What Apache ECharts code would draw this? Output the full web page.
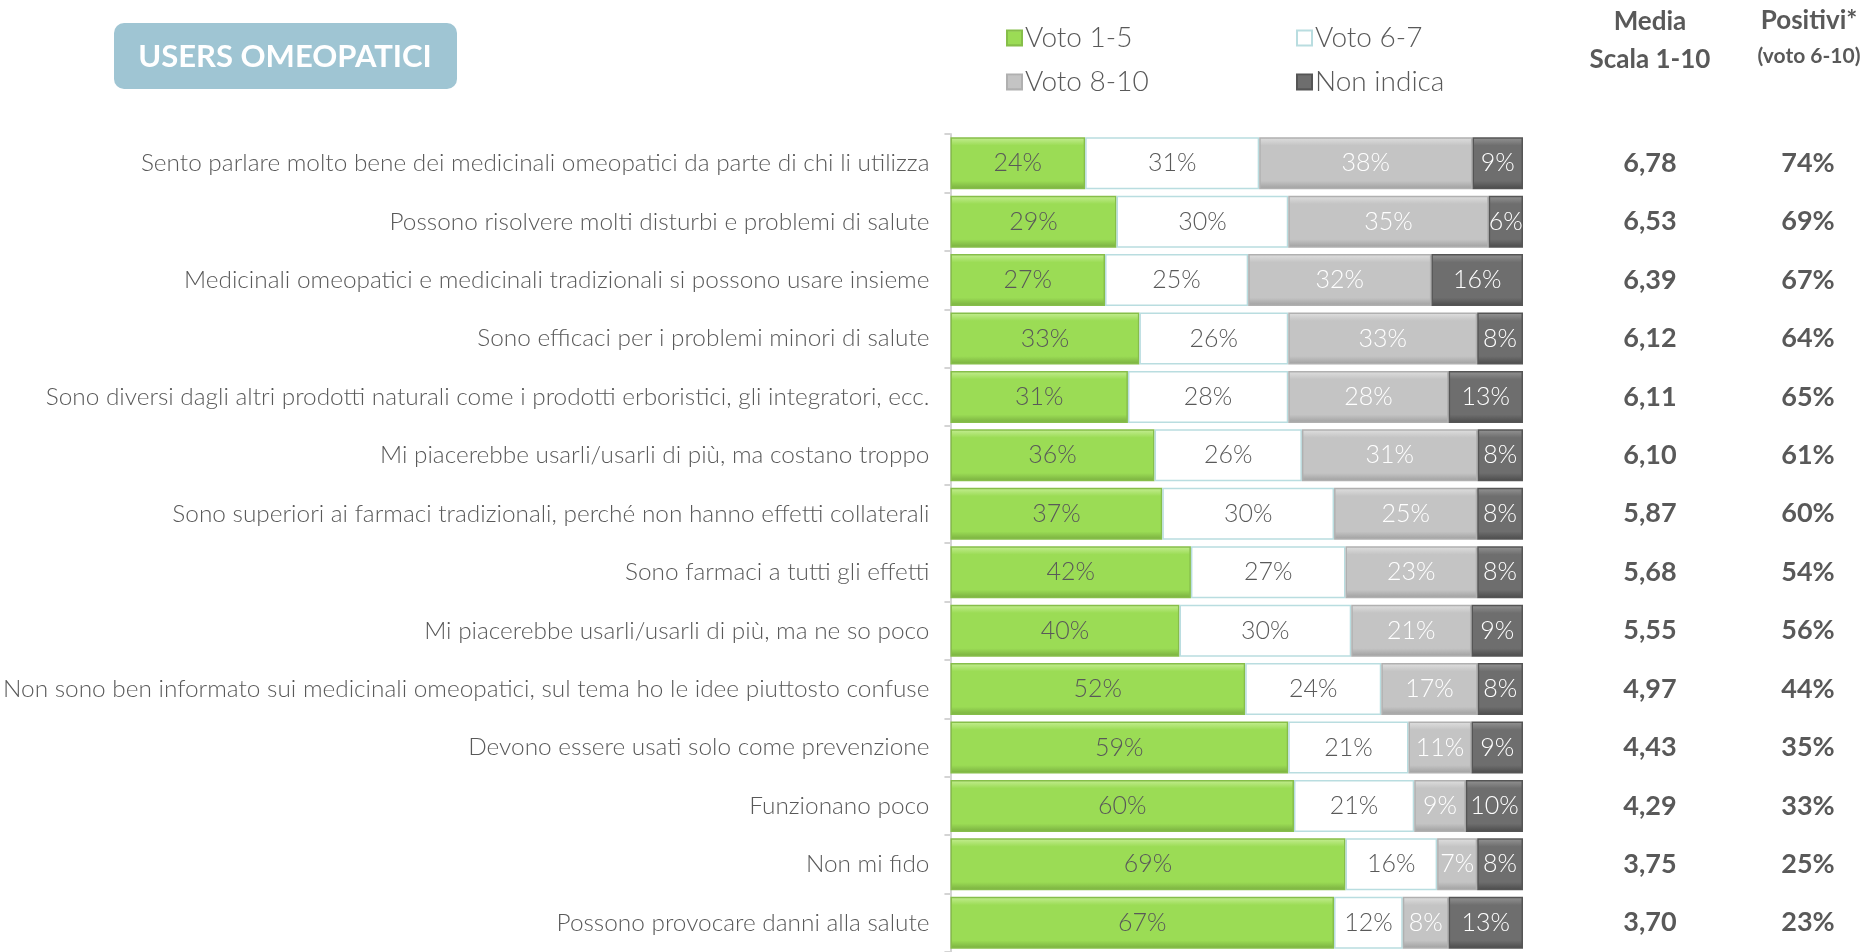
<!DOCTYPE html>
<html>
<head>
<meta charset="utf-8">
<script src="https://cdn.jsdelivr.net/npm/echarts@6/dist/echarts.min.js"></script>
<style>
  html, body { margin: 0; padding: 0; background: #fff; }
  #chart { width: 1865px; height: 952px; }
</style>
</head>
<body>
<div id="chart"></div>
<script>
  const categories = [
    'Sento parlare molto bene dei medicinali omeopatici da parte di chi li utilizza',
    'Possono risolvere molti disturbi e problemi di salute',
    'Medicinali omeopatici e medicinali tradizionali si possono usare insieme',
    'Sono efficaci per i problemi minori di salute',
    'Sono diversi dagli altri prodotti naturali come i prodotti erboristici, gli integratori, ecc.',
    'Mi piacerebbe usarli/usarli di più, ma costano troppo',
    'Sono superiori ai farmaci tradizionali, perché non hanno effetti collaterali',
    'Sono farmaci a tutti gli effetti',
    'Mi piacerebbe usarli/usarli di più, ma ne so poco',
    'Non sono ben informato sui medicinali omeopatici, sul tema ho le idee piuttosto confuse',
    'Devono essere usati solo come prevenzione',
    'Funzionano poco',
    'Non mi fido',
    'Possono provocare danni alla salute'
  ]
  const voto15 = [24, 29, 27, 33, 31, 36, 37, 42, 40, 52, 59, 60, 69, 67]
  const voto67 = [31, 30, 25, 26, 28, 26, 30, 27, 30, 24, 21, 21, 16, 12]
  const voto810 = [38, 35, 32, 33, 28, 31, 25, 23, 21, 17, 11, 9, 7, 8]
  const nonIndica = [9, 6, 16, 8, 13, 8, 8, 8, 9, 8, 9, 10, 8, 13]
  const media = ['6,78', '6,53', '6,39', '6,12', '6,11', '6,10', '5,87', '5,68', '5,55', '4,97', '4,43', '4,29', '3,75', '3,70']
  const positivi = ['74%', '69%', '67%', '64%', '65%', '61%', '60%', '54%', '56%', '44%', '35%', '33%', '25%', '23%']

  const FONT = 'Lato'
  const TEXT = '#595959'

  // every row fills the whole width, as in the original (rows do not always sum to 100)
  const totals = categories.map((c, i) => voto15[i] + voto67[i] + voto810[i] + nonIndica[i])
  const toShare = arr => arr.map((v, i) => ({ value: v / totals[i] * 100, raw: v }))

  function bevel (top, mid, bottom) {
    return {
      type: 'linear', x: 0, y: 0, x2: 0, y2: 1,
      colorStops: [
        { offset: 0, color: top },
        { offset: 0.16, color: mid },
        { offset: 0.84, color: mid },
        { offset: 1, color: bottom }
      ]
    }
  }

  const seriesDefs = [
    { name: 'Voto 1-5', data: voto15, color: bevel('#c6ee94', '#9bdc55', '#78ad3f'), border: '#86be4a', label: TEXT },
    { name: 'Voto 6-7', data: voto67, color: '#ffffff', border: '#b9dde0', label: TEXT },
    { name: 'Voto 8-10', data: voto810, color: bevel('#e0e0e0', '#c4c4c4', '#9e9e9e'), border: '#b0b0b0', label: '#ffffff' },
    { name: 'Non indica', data: nonIndica, color: bevel('#959595', '#6e6e6e', '#4a4a4a'), border: '#555555', label: '#ffffff' }
  ]

  const series = seriesDefs.map(s => ({
    name: s.name,
    type: 'bar',
    stack: 'tot',
    yAxisIndex: 0,
    barCategoryGap: '11%',
    data: toShare(s.data),
    itemStyle: { color: s.color, borderColor: s.border, borderWidth: 1.5 },
    label: {
      show: true,
      position: 'inside',
      formatter: p => p.data.raw + '%',
      color: s.label,
      fontFamily: FONT,
      fontSize: 25,
      fontWeight: 300
    },
    emphasis: { disabled: true }
  }))

  const legendPos = [
    [1006, 24], [1296, 24], [1006, 68], [1296, 68]
  ]
  const legends = seriesDefs.map((s, i) => ({
    data: [{ name: s.name, icon: 'rect' }],
    left: legendPos[i][0],
    top: legendPos[i][1],
    padding: 0,
    itemWidth: 15,
    itemHeight: 15,
    itemGap: 6,
    selectedMode: false,
    textStyle: { color: TEXT, fontFamily: FONT, fontSize: 28, fontWeight: 300, padding: [0, 0, 0, -2] }
  }))

  const chart = echarts.init(document.getElementById('chart'))
  chart.setOption({
    animation: false,
    backgroundColor: '#ffffff',
    legend: legends,
    grid: { left: 948, right: 342, top: 134, height: 824, containLabel: false },
    xAxis: { type: 'value', min: 0, max: 100, show: false },
    yAxis: [
      {
        type: 'category',
        inverse: true,
        data: categories,
        axisLine: { show: true, lineStyle: { color: '#d4d4d4', width: 2 } },
        axisTick: { show: true, length: 6, lineStyle: { color: '#d4d4d4', width: 2 } },
        axisLabel: { color: TEXT, fontFamily: FONT, fontSize: 24.4, fontWeight: 300, margin: 21 }
      },
      {
        type: 'category',
        inverse: true,
        position: 'right',
        data: media,
        axisLine: { show: false },
        axisTick: { show: false },
        axisLabel: { color: TEXT, fontFamily: FONT, fontSize: 27, fontWeight: 'bold', align: 'center', margin: 127 }
      },
      {
        type: 'category',
        inverse: true,
        position: 'right',
        data: positivi,
        axisLine: { show: false },
        axisTick: { show: false },
        axisLabel: { color: TEXT, fontFamily: FONT, fontSize: 27, fontWeight: 'bold', align: 'center', margin: 285 }
      }
    ],
    graphic: [
      {
        type: 'rect',
        shape: { x: 114, y: 23, width: 343, height: 66, r: 10 },
        style: { fill: '#9fc5d3' }
      },
      {
        type: 'text',
        x: 285, y: 57,
        style: { text: 'USERS OMEOPATICI', fill: '#ffffff', font: 'bold 31px ' + FONT, align: 'center', verticalAlign: 'middle' }
      },
      {
        type: 'text', x: 1650, y: 22,
        style: { text: 'Media', fill: TEXT, font: 'bold 26px ' + FONT, align: 'center', verticalAlign: 'middle' }
      },
      {
        type: 'text', x: 1650, y: 60,
        style: { text: 'Scala 1-10', fill: TEXT, font: 'bold 26px ' + FONT, align: 'center', verticalAlign: 'middle' }
      },
      {
        type: 'text', x: 1809, y: 21,
        style: { text: 'Positivi*', fill: TEXT, font: 'bold 26px ' + FONT, align: 'center', verticalAlign: 'middle' }
      },
      {
        type: 'text', x: 1809, y: 56,
        style: { text: '(voto 6-10)', fill: TEXT, font: 'bold 21px ' + FONT, align: 'center', verticalAlign: 'middle' }
      }
    ],
    series: series
  })
</script>
</body>
</html>
